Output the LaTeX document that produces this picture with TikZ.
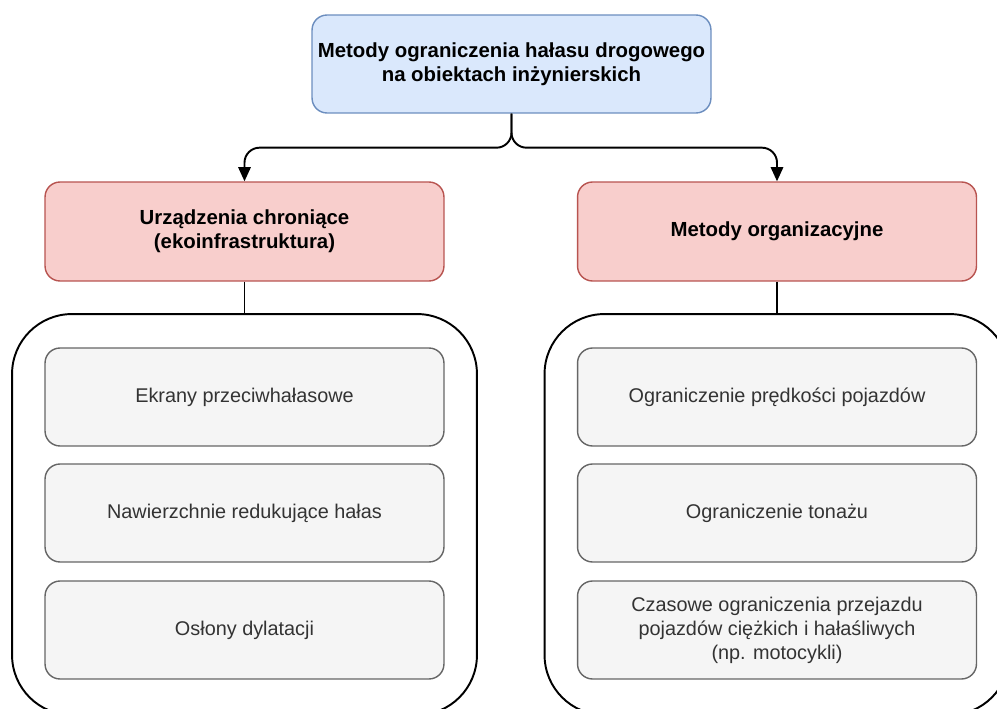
\documentclass[tikz,border=0pt]{standalone}
\usepackage{fontspec}
\setmainfont{Liberation Sans}
\usetikzlibrary{arrows.meta}
\definecolor{bluefill}{HTML}{DAE8FC}
\definecolor{blueline}{HTML}{6C8EBF}
\definecolor{redfill}{HTML}{F8CECC}
\definecolor{redline}{HTML}{B85450}
\definecolor{grayfill}{HTML}{F5F5F5}
\definecolor{grayline}{HTML}{666666}
\definecolor{graytext}{HTML}{333333}
\tikzset{
  box/.style={rounded corners=0.3cm, line width=0.8pt, minimum width=7.98cm, minimum height=1.96cm, align=center, inner sep=0pt, font=\fontsize{11.3}{13.6}\selectfont},
  topbox/.style={box, draw=blueline, fill=bluefill, font=\fontsize{11.6}{13.6}\selectfont\bfseries},
  groupbox/.style={box, draw=redline, fill=redfill, minimum height=1.98cm, font=\fontsize{11.6}{13.6}\selectfont\bfseries},
  itembox/.style={box, draw=grayline, fill=grayfill, text=graytext},
  frame/.style={draw, rounded corners=1.2cm, line width=1.1pt, minimum width=9.3cm, minimum height=8.02cm},
  link/.style={line width=1.1pt, rounded corners=0.3cm},
}
\begin{document}
\begin{tikzpicture}[x=0.02cm, y=-0.02cm]
\clip (0,0) rectangle (997,709);
\fill [white] (0,0) rectangle (997,709);

\node [frame] (lewa) at (244.5,514.5) {};
\node [frame] (prawa) at (777,514.5) {};

\node [topbox] (metody) at (511.5,64) {Metody ograniczenia hałasu drogowego\\na obiektach inżynierskich};

\node [groupbox] (urzadzenia) at (244.5,231.5) {Urządzenia chroniące\\(ekoinfrastruktura)};
\node [groupbox] (organizacyjne) at (777,231.5) {Metody organizacyjne};

\node [itembox] (ekrany) at (244.5,397) {Ekrany przeciwhałasowe};
\node [itembox] (nawierzchnie) at (244.5,513) {Nawierzchnie redukujące hałas};
\node [itembox] (oslony) at (244.5,630) {Osłony dylatacji};

\node [itembox] (predkosc) at (777,397) {Ograniczenie prędkości pojazdów};
\node [itembox] (tonaz) at (777,513) {Ograniczenie tonażu};
\node [itembox] (czasowe) at (777,630) {Czasowe ograniczenia przejazdu\\pojazdów ciężkich i hałaśliwych\\(np. motocykli)};

\draw [link, -{Triangle[length=8pt,width=7pt]}] (metody.south) -- ++(0,34) -| (urzadzenia.north);
\draw [link, -{Triangle[length=8pt,width=7pt]}] (metody.south) -- ++(0,34) -| (organizacyjne.north);

\draw [link] (urzadzenia.south) -- (lewa.north);
\draw [link] (organizacyjne.south) -- (prawa.north);
\end{tikzpicture}
\end{document}
